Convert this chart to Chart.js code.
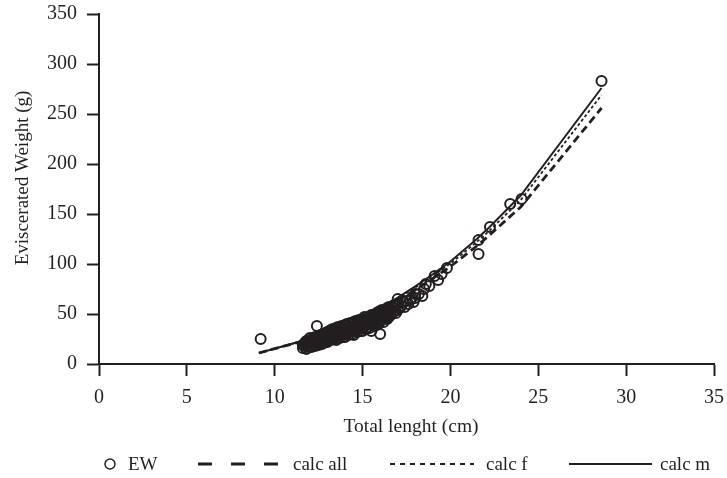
<!DOCTYPE html>
<html><head><meta charset="utf-8">
<script src="https://cdn.jsdelivr.net/npm/chart.js@4.4.0/dist/chart.umd.min.js"></script>
<style>html,body{margin:0;padding:0;background:#fff}canvas{display:block}</style>
</head><body>
<canvas id="c" width="727" height="478"></canvas>
<script>
// ---- data ----
const xTicks = [0, 5, 10, 15, 20, 25, 30, 35];
const yTicks = [0, 50, 100, 150, 200, 250, 300, 350];
const xTitle = 'Total lenght (cm)';
const yTitle = 'Eviscerated Weight (g)';
const seriesNames = ['EW', 'calc all', 'calc f', 'calc m'];

const ewLength = [
  9.2,
  11.6,11.6,11.7,11.7,11.8,11.8,11.8,11.9,11.9,12.0,12.0,12.0,12.0,
  12.1,12.1,12.1,12.2,12.2,12.2,12.3,12.3,12.3,12.4,12.4,12.4,12.5,12.5,12.5,12.5,
  12.6,12.6,12.6,12.7,12.7,12.7,12.8,12.8,12.8,12.9,12.9,12.9,13.0,13.0,13.0,13.0,
  13.1,13.1,13.1,13.2,13.2,13.2,13.3,13.3,13.3,13.4,13.4,13.4,13.5,13.5,13.5,13.5,
  13.6,13.6,13.6,13.7,13.7,13.7,13.8,13.8,13.8,13.9,13.9,13.9,14.0,14.0,14.0,14.0,
  14.1,14.1,14.1,14.2,14.2,14.2,14.3,14.3,14.3,14.4,14.4,14.4,14.5,14.5,14.5,14.5,
  14.6,14.6,14.6,14.7,14.7,14.7,14.8,14.8,14.8,14.9,14.9,14.9,15.0,15.0,15.0,15.0,
  15.1,15.1,15.1,15.2,15.2,15.2,15.3,15.3,15.3,15.4,15.4,15.4,15.5,15.5,15.5,15.5,
  15.6,15.6,15.6,15.7,15.7,15.7,15.8,15.8,15.8,15.9,15.9,15.9,16.0,16.0,16.0,16.0,
  16.1,16.1,16.1,16.2,16.2,16.2,16.3,16.3,16.4,16.4,16.4,16.5,16.5,16.5,
  16.6,16.6,16.7,16.7,16.8,16.8,16.9,16.9,17.0,17.0,17.0,
  17.1,17.2,17.3,17.4,17.5,17.6,17.7,17.8,17.9,18.0,18.0,
  18.2,18.4,18.5,18.6,18.8,19.1,19.3,19.5,19.8,
  21.6,21.6,22.25,23.4,24.05,28.6
];
const ewWeight = [
  25,
  16,19,18,21,15,20,23,17,22,18,21,24,26,
  17,20,24,19,23,26,18,22,27,20,25,38,21,24,28,19,
  22,26,29,20,24,28,23,27,30,22,26,31,24,28,32,22,
  25,29,33,24,28,34,26,30,35,25,29,33,27,31,36,24,
  28,32,37,26,30,35,29,33,38,27,31,36,30,34,39,27,
  31,35,40,29,33,38,32,36,41,30,34,40,33,37,42,29,
  34,38,43,32,36,41,35,39,44,33,37,42,36,40,45,33,
  38,42,47,35,40,44,37,42,47,36,41,46,33,39,44,49,
  40,44,49,38,43,48,41,46,51,40,45,52,43,48,53,30,
  44,49,54,42,47,53,46,51,45,50,56,47,52,57,
  49,55,51,57,53,59,51,58,54,60,65,
  56,58,62,57,63,60,64,66,62,70,66,
  70,68,75,80,78,88,84,90,96,
  110,124,137,160,165,283
];

const calcLength = [9.1, 11.7, 13, 14, 15, 16, 17, 18, 19, 20, 21.5, 22.2, 23.3, 24, 28.6];
const calcAll = [11, 23.4, 31.1, 37.9, 45.5, 54.1, 63.6, 74.1, 85.6, 97.5, 118, 128.5, 146, 157, 256];
const calcF   = [11, 23.8, 31.6, 38.7, 46.7, 55.6, 65.4, 76.4, 88.3, 100.5, 122, 133, 152, 164, 269];
const calcM   = [11, 23.8, 31.8, 39.0, 47.1, 56.2, 66.3, 77.7, 89.8, 102.5, 125, 136.5, 156, 168.5, 276];

// ---- build ----
const INK = '#231f20';
const FONT = "'Liberation Serif', 'DejaVu Serif', serif";
const pts = (xs, ys) => xs.map((x, i) => ({x, y: ys[i]}));

const lineDs = (label, ys, width, dash) => ({
  label, data: pts(calcLength, ys), showLine: true, pointRadius: 0,
  borderColor: INK, borderWidth: width, borderDash: dash, tension: 0, fill: false
});

const overlay = {
  id: 'overlay',
  afterDraw(chart) {
    const ctx = chart.ctx;
    ctx.save();
    ctx.fillStyle = INK;
    ctx.strokeStyle = INK;
    ctx.textBaseline = 'alphabetic';
    ctx.font = '19.5px ' + FONT;
    // x title
    ctx.textAlign = 'center';
    ctx.fillText(xTitle, 411, 432);
    // y title
    ctx.save();
    ctx.font = '19px ' + FONT;
    ctx.translate(28, 178);
    ctx.rotate(-Math.PI / 2);
    ctx.fillText(yTitle, 0, 0);
    ctx.restore();
    // legend
    const ly = 464, tb = 470;
    ctx.font = '19px ' + FONT;
    ctx.textAlign = 'left';
    ctx.beginPath();
    ctx.lineWidth = 1.5;
    ctx.fillStyle = '#fff';
    ctx.arc(110, ly, 5, 0, Math.PI * 2);
    ctx.fill(); ctx.stroke();
    ctx.fillStyle = INK;
    ctx.fillText(seriesNames[0], 128, tb);
    const segs = [
      [198, 281, 3, [14, 19], 293, seriesNames[1]],
      [390, 474, 2, [5, 5], 486, seriesNames[2]],
      [569, 652, 2, [], 660, seriesNames[3]]
    ];
    segs.forEach(([a, b, w, d, tx, t]) => {
      ctx.beginPath();
      ctx.setLineDash(d);
      ctx.lineWidth = w;
      ctx.moveTo(a, ly); ctx.lineTo(b, ly);
      ctx.stroke();
      ctx.setLineDash([]);
      ctx.fillText(t, tx, tb);
    });
    ctx.restore();
  }
};

new Chart(document.getElementById('c'), {
  type: 'scatter',
  data: {
    datasets: [
      lineDs(seriesNames[1], calcAll, 2.8, [8, 4.5]),
      lineDs(seriesNames[2], calcF, 1.8, [3, 2.5]),
      lineDs(seriesNames[3], calcM, 2, []),
      {
        label: seriesNames[0], data: pts(ewLength, ewWeight), showLine: false,
        pointRadius: 5, pointBorderWidth: 2, pointBorderColor: INK,
        pointBackgroundColor: 'rgba(255,255,255,0)'
      }
    ]
  },
  options: {
    responsive: false, animation: false,
    layout: {padding: {left: 0, right: 13, top: 14, bottom: 30}},
    plugins: {legend: {display: false}, tooltip: {enabled: false}},
    scales: {
      x: {
        type: 'linear', min: 0, max: 35,
        afterBuildTicks: s => { s.ticks = xTicks.map(v => ({value: v})); },
        afterFit: s => { s.height = 84; s.paddingLeft = 0; s.paddingRight = 0; },
        ticks: {color: INK, font: {family: FONT, size: 20}, padding: 10, maxRotation: 0},
        grid: {drawOnChartArea: false, drawTicks: true, tickLength: 12, tickWidth: 2, color: INK},
        border: {display: true, color: INK, width: 2}
      },
      y: {
        type: 'linear', min: 0, max: 350,
        afterBuildTicks: s => { s.ticks = yTicks.map(v => ({value: v})); },
        afterFit: s => { s.width = 99; s.paddingTop = 0; s.paddingBottom = 0; },
        ticks: {color: INK, font: {family: FONT, size: 20}, padding: 10},
        grid: {drawOnChartArea: false, drawTicks: true, tickLength: 12, tickWidth: 2, color: INK},
        border: {display: true, color: INK, width: 2}
      }
    }
  },
  plugins: [overlay]
});
</script>
</body></html>
